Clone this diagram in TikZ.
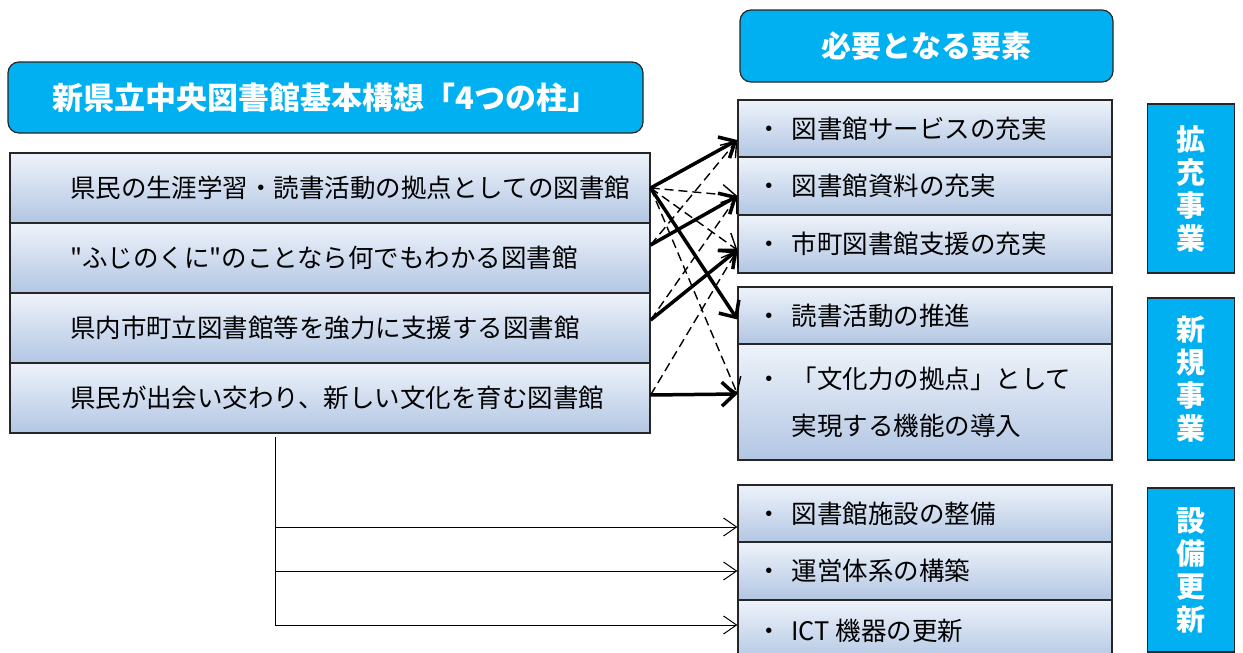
\documentclass[tikz,border=0pt]{standalone}
\usepackage{fontspec}
\setmainfont{Noto Sans CJK JP}[Ligatures=TeXOff]
\usepackage{tikz}
\usetikzlibrary{arrows.meta}
\definecolor{headcyan}{HTML}{00B0F0}
\definecolor{gradtop}{HTML}{EEF3FA}
\definecolor{gradbot}{HTML}{B2C6E3}
\newcommand{\pillartext}[1]{\makebox[520pt][l]{#1}}
\newcommand{\elemtext}[1]{\makebox[338pt][l]{・\hspace{10pt}#1}}

\begin{document}
\begin{tikzpicture}[x=1pt,y=-1pt,
  headbox/.style={draw=black!85,line width=1.2pt,fill=headcyan,rounded corners=11pt,text=white,font=\bfseries\fontsize{30}{30}\selectfont},
  pillar/.style={draw=black!85,line width=1.2pt,top color=gradtop,bottom color=gradbot,minimum width=640pt,minimum height=70pt,inner sep=0pt,font=\fontsize{25.5}{30}\selectfont},
  element/.style={draw=black!85,line width=1.2pt,top color=gradtop,bottom color=gradbot,minimum width=374pt,inner sep=0pt,align=left,font=\fontsize{25.5}{47}\selectfont},
  sidebox/.style={draw=black!85,line width=1.6pt,fill=headcyan,minimum width=87pt,text=white,align=center,font=\bfseries\fontsize{29}{33}\selectfont},
  strong/.style={line width=3.5pt,-{Straight Barb[length=13pt,width=24pt]}},
  weak/.style={line width=1.4pt,dash pattern=on 9pt off 5pt,-{Straight Barb[length=14pt,width=20pt]}},
  feed/.style={line width=1pt,-{Straight Barb[length=13pt,width=18pt]}}]
              \useasboundingbox (0,0) rectangle (1243,653);
              \node[headbox,minimum width=635pt,minimum height=71pt,font=\bfseries\fontsize{31}{31}\selectfont] (title) at (325.5,97.5) {新県立中央図書館基本構想「4つの柱」};
              \node[headbox,minimum width=373pt,minimum height=72pt] (need) at (926.5,46) {必要となる要素};
              \node[pillar] (p1) at (330,188) {\pillartext{県民の生涯学習・読書活動の拠点としての図書館}};
              \node[pillar] (p2) at (330,258) {\pillartext{"ふじのくに"のことなら何でもわかる図書館}};
              \node[pillar] (p3) at (330,328) {\pillartext{県内市町立図書館等を強力に支援する図書館}};
              \node[pillar] (p4) at (330,398) {\pillartext{県民が出会い交わり、新しい文化を育む図書館}};
              \node[element,minimum height=57pt] (e1) at (925,128.5) {\elemtext{図書館サービスの充実}};
              \node[element,minimum height=58pt] (e2) at (925,186) {\elemtext{図書館資料の充実}};
              \node[element,minimum height=58pt] (e3) at (925,244) {\elemtext{市町図書館支援の充実}};
              \node[element,minimum height=57pt] (e4) at (925,315.5) {\elemtext{読書活動の推進}};
              \node[element,minimum height=116pt] (e5) at (925,402) {\elemtext{「文化力の拠点」として}\\\makebox[338pt][l]{\hspace{35.5pt}実現する機能の導入}};
              \node[element,minimum height=57pt] (e6) at (925,513.5) {\elemtext{図書館施設の整備}};
              \node[element,minimum height=58pt] (e7) at (925,571) {\elemtext{運営体系の構築}};
              \node[element,minimum height=62pt] (e8) at (925,631) {\elemtext{ICT 機器の更新}};
              \node[sidebox,minimum height=169pt] (s1) at (1191,188.5) {拡\\充\\事\\業};
              \node[sidebox,minimum height=162pt] (s2) at (1191,379) {新\\規\\事\\業};
              \node[sidebox,minimum height=164pt] (s3) at (1191,570) {設\\備\\更\\新};
              \draw[strong] (p1.east) -- ([yshift=-11.5pt]e1.west);
              \draw[weak] (p1.east) -- ([yshift=-10pt]e2.west);
              \draw[weak] (p1.east) -- ([yshift=-6pt]e3.west);
              \draw[strong] (p1.east) -- ([yshift=-4pt]e4.west);
              \draw[weak] (p1.east) -- ([yshift=8pt]e5.west);
              \draw[strong] ([yshift=13pt]p2.east) -- ([yshift=-10pt]e2.west);
              \draw[weak] ([yshift=13pt]p2.east) -- ([yshift=-11.5pt]e1.west);
              \draw[strong] ([yshift=8pt]p3.east) -- ([yshift=-6pt]e3.west);
              \draw[weak] ([yshift=8pt]p3.east) -- ([yshift=-10pt]e2.west);
              \draw[strong] ([yshift=3pt]p4.east) -- ([yshift=8pt]e5.west);
              \draw[weak] ([yshift=3pt]p4.east) -- ([yshift=-6pt]e3.west);
              \coordinate (trunk) at (275,437);
              \draw[feed] (trunk) |- ([yshift=-13.5pt]e6.west);
              \draw[feed] (trunk) |- (e7.west);
              \draw[feed] (trunk) |- ([yshift=6pt]e8.west);
            \end{tikzpicture}
\end{document}
